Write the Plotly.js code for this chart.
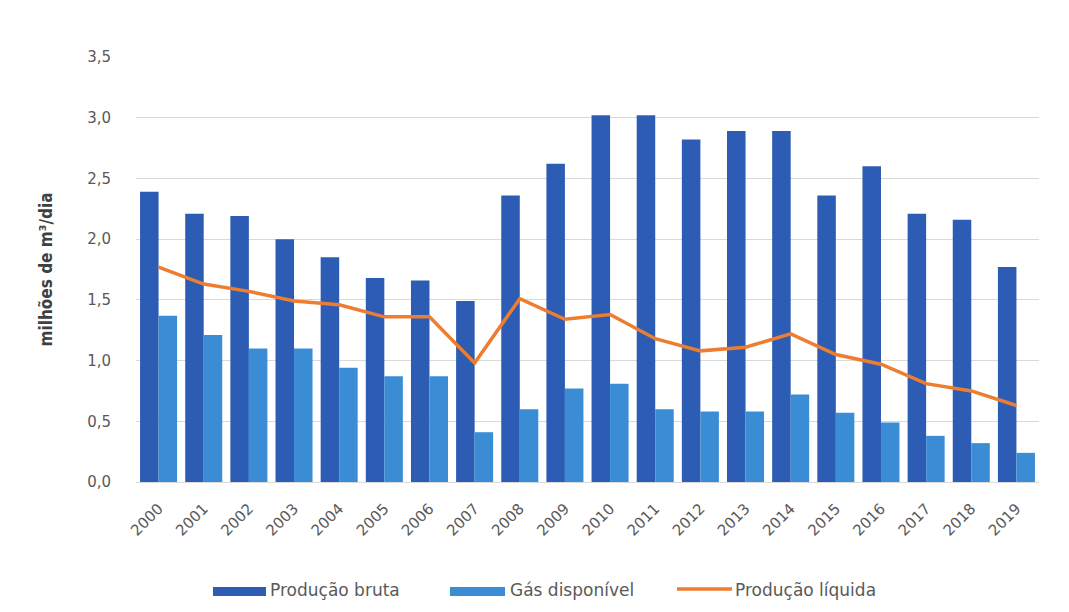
<!DOCTYPE html>
<html>
<head>
<meta charset="utf-8">
<script src="https://cdn.plot.ly/plotly-3.0.1.min.js"></script>
<style>html,body{margin:0;padding:0;background:#fff;}#chart{width:1069px;height:612px;}</style>
</head>
<body>
<div id="chart"></div>
<script>
const years = ["2000","2001","2002","2003","2004","2005","2006","2007","2008","2009","2010","2011","2012","2013","2014","2015","2016","2017","2018","2019"];
const producaoBruta = [2.39,2.21,2.19,2.00,1.85,1.68,1.66,1.49,2.36,2.62,3.02,3.02,2.82,2.89,2.89,2.36,2.60,2.21,2.16,1.77];
const gasDisponivel = [1.37,1.21,1.10,1.10,0.94,0.87,0.87,0.41,0.60,0.77,0.81,0.60,0.58,0.58,0.72,0.57,0.49,0.38,0.32,0.24];
const producaoLiquida = [1.77,1.63,1.57,1.49,1.46,1.36,1.36,0.98,1.51,1.34,1.38,1.18,1.08,1.11,1.22,1.05,0.97,0.81,0.75,0.63];
const yTicks = [0,0.5,1.0,1.5,2.0,2.5,3.0,3.5];
const names = ["Produção bruta","Gás disponível","Produção líquida"];
const colors = ["#2C5CB3","#3A8DD5","#ED7D31"];

const txt = "#595959";
const font = "DejaVu Sans, Verdana, sans-serif";

const data = [
  {type:"bar", x:years, y:producaoBruta, name:names[0], marker:{color:colors[0]}},
  {type:"bar", x:years, y:gasDisponivel, name:names[1], marker:{color:colors[1]}},
  {type:"scatter", mode:"lines", x:years, y:producaoLiquida, name:names[2], line:{color:colors[2], width:3.5}}
];

// Custom legend (wide swatches like the original), placed in paper coordinates
const W = 903, H = 425, L = 136, B = 482;
const px = v => (v - L) / W;
const py = v => (B - v) / H;
const legendItems = [
  {kind:"rect", x0:213, x1:266, textX:268},
  {kind:"rect", x0:450, x1:505, textX:508},
  {kind:"line", x0:677, x1:732, textX:733}
];
const shapes = [];
const annotations = [];
legendItems.forEach((it, i) => {
  if (it.kind === "rect") {
    shapes.push({type:"rect", xref:"paper", yref:"paper", x0:px(it.x0), x1:px(it.x1), y0:py(596), y1:py(587),
                 fillcolor:colors[i], line:{width:0}});
  } else {
    shapes.push({type:"line", xref:"paper", yref:"paper", x0:px(it.x0), x1:px(it.x1), y0:py(589), y1:py(589),
                 line:{color:colors[i], width:3.5}});
  }
  annotations.push({xref:"paper", yref:"paper", x:px(it.textX), y:py(590), xanchor:"left", yanchor:"middle",
                    text:names[i], showarrow:false, font:{family:font, size:17, color:txt}});
});

const layout = {
  width:1069, height:612,
  margin:{l:L, r:1069 - L - W, t:57, b:612 - B},
  paper_bgcolor:"#ffffff", plot_bgcolor:"#ffffff",
  separators:",.",
  barmode:"group", bargap:0.18, bargroupgap:0,
  showlegend:false,
  shapes:shapes,
  annotations:annotations,
  xaxis:{type:"category", tickangle:-45, tickfont:{family:font, size:15, color:txt},
         showgrid:false, showline:false, ticks:"", ticklabelstandoff:14, automargin:false},
  yaxis:{range:[0,3.5], tickvals:yTicks, tickformat:".1f",
         tickfont:{family:font, size:15, color:txt},
         gridcolor:"#d9d9d9", gridwidth:1, zeroline:true, zerolinecolor:"#d9d9d9",
         showline:false, ticks:"", ticklabelstandoff:24, automargin:false,
         title:{text:"<b>milhões de m³/dia</b>", standoff:30,
                font:{family:"Liberation Sans Narrow, DejaVu Sans Condensed, sans-serif", size:17, color:"#404040"}}}
};

Plotly.newPlot("chart", data, layout, {displayModeBar:false, staticPlot:true});
</script>
</body>
</html>
